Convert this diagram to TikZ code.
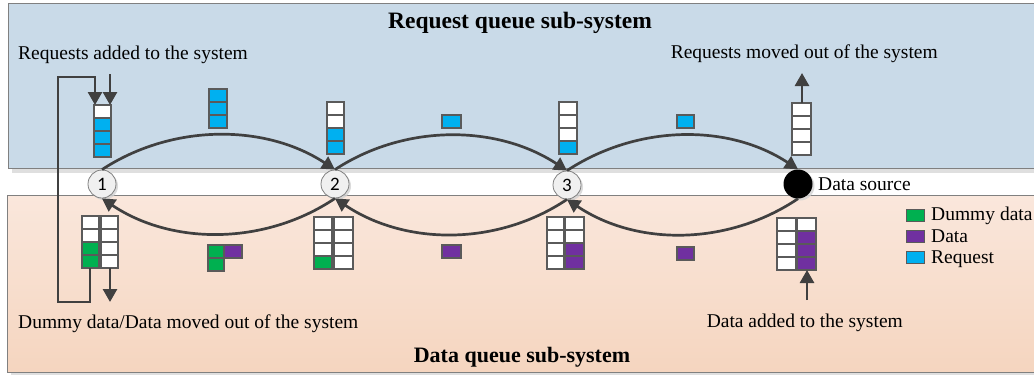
\documentclass[tikz,border=0pt]{standalone}
\usepackage{fontspec}
\setmainfont{Liberation Serif}
\newfontfamily\numfont{Carlito}
\usetikzlibrary{arrows.meta,shadows,calc}
\definecolor{panelblue}{HTML}{C9DAE8}
\definecolor{peachtop}{HTML}{FAE7DC}
\definecolor{peachbot}{HTML}{F5D5BF}
\definecolor{reqblue}{HTML}{00B0F0}
\definecolor{dumgreen}{HTML}{00B050}
\definecolor{datpurple}{HTML}{7030A0}
\definecolor{linegray}{HTML}{404040}
\definecolor{cellgray}{HTML}{5A5A5A}
\newcommand\qstack[5]{%
  \foreach \c [count=\i] in {#5} {%
    \node[qcell,fill=\c,minimum width=#4,anchor=north west] (#1-\i) at (#2,{#3+(\i-1)*13}) {};}}
\begin{document}
\begin{tikzpicture}[x=1pt,y=-1pt,
  qcell/.style={draw=cellgray,line width=1.1pt,minimum height=13pt,inner sep=0pt,outer sep=0pt},
  flow/.style={draw=linegray,line width=2.7pt,-{Triangle[length=13pt,width=14pt]}},
  hub/.style={circle,draw=gray,line width=0.8pt,fill=gray!12,minimum size=28pt,inner sep=0pt,font=\numfont\fontsize{19}{19}\selectfont,
    drop shadow={shadow xshift=2pt,shadow yshift=-2pt,fill=gray!35,opacity=0.8}},
  lbl/.style={inner sep=0pt,font=\fontsize{19.5}{20}\selectfont},
  legsq/.style={draw=cellgray,line width=1pt,minimum width=18pt,minimum height=12pt,inner sep=0pt}]
\useasboundingbox (0,0) rectangle (1034,375);
% panels
\fill[gray!25] (12,7) rectangle (1045,173);
\node[draw=gray,line width=1pt,fill=panelblue,anchor=north west,minimum width=1040pt,minimum height=165pt,inner sep=0pt] (top) at (8,3) {};
\fill[gray!25] (11,199) rectangle (1045,377);
\node[draw=gray,line width=1pt,top color=peachtop,bottom color=peachbot,anchor=north west,minimum width=1040pt,minimum height=177pt,inner sep=0pt] (bot) at (7,195) {};
% hubs
\node[hub] (c1) at (102,184) {1};
\node[hub] (c2) at (335,184) {2};
\node[hub] (c3) at (567,185) {3};
\node[circle,fill=black,minimum size=29pt,inner sep=0pt,drop shadow={shadow xshift=2pt,shadow yshift=-2pt,fill=gray!35,opacity=0.8}] (ds) at (798,184) {};
% arcs
\draw[flow] (c1.north) .. controls +(70,-46) and +(-70,-46) .. (c2.north);
\draw[flow] (c2.north) .. controls +(70,-46) and +(-70,-46) .. (c3.north);
\draw[flow] (c3.north) .. controls +(70,-46) and +(-70,-46) .. (ds.north);
\draw[flow] (c2.south) .. controls +(-70,47) and +(70,47) .. (c1.south);
\draw[flow] (c3.south) .. controls +(-70,47) and +(70,47) .. (c2.south);
\draw[flow] (ds.south) .. controls +(-70,47) and +(70,47) .. (c3.south);
% request stacks
\qstack{t1}{94}{105}{17}{white,reqblue,reqblue,reqblue}
\qstack{m12}{209}{89}{18}{reqblue,reqblue,reqblue}
\qstack{t2}{327}{102}{17}{white,white,reqblue,reqblue}
\qstack{m23}{442}{115}{19}{reqblue}
\qstack{t3}{559}{102}{18}{white,white,white,reqblue}
\qstack{m3d}{677}{115}{17}{reqblue}
\qstack{td}{792}{103}{19}{white,white,white,white}
% data stacks
\qstack{b1l}{82}{216}{17}{white,white,dumgreen,dumgreen}
\qstack{b1r}{101}{216}{17}{white,white,white,white}
\qstack{n12a}{208}{245}{16}{dumgreen,dumgreen}
\qstack{n12b}{224}{245}{18}{datpurple}
\qstack{b2l}{314}{217}{18}{white,white,white,dumgreen}
\qstack{b2r}{334}{217}{19}{white,white,white,white}
\qstack{n23}{442}{245}{19}{datpurple}
\qstack{b3l}{547}{217}{17}{white,white,white,white}
\qstack{b3r}{565}{217}{19}{white,white,datpurple,datpurple}
\qstack{n3d}{677}{247}{17}{datpurple}
\qstack{bdl}{777}{218}{19}{white,white,white,white}
\qstack{bdr}{797}{218}{19}{white,datpurple,datpurple,datpurple}
% in/out arrows
\coordinate (loopA) at (90,302);
\coordinate (loopB) at (58,302);
\coordinate (loopC) at (58,77);
\coordinate (loopD) at (95,77);
\draw[flow] (b1l-4.south -| loopA) -- (loopA) -- (loopB) -- (loopC) -- (loopD) -- (loopD |- t1-1.north);
\coordinate (inR) at (110,74);
\draw[flow] (inR) -- (inR |- t1-1.north);
\coordinate (outR) at (802,73);
\draw[flow] (outR |- td-1.north) -- (outR);
\coordinate (outD) at (110,302);
\draw[flow] (outD |- b1r-4.south) -- (outD);
\coordinate (inD) at (807,300);
\draw[flow] (inD) -- (inD |- bdr-4.south);
% texts
\node[inner sep=0pt,font=\bfseries\fontsize{23.5}{24}\selectfont,anchor=base] (ttop) at (520,28) {Request queue sub-system};
\node[inner sep=0pt,font=\bfseries\fontsize{22}{23}\selectfont,anchor=base] (tbot) at (522,362) {Data queue sub-system};
\node[lbl,anchor=base west] (l1) at (18,59) {Requests added to the system};
\node[lbl,anchor=base east] (l2) at (938,58) {Requests moved out of the system};
\node[lbl,anchor=base west] (l3) at (18,328) {Dummy data/Data moved out of the system};
\node[lbl,anchor=base east] (l4) at (903,327) {Data added to the system};
\node[lbl,anchor=base west] (l5) at (818,190) {Data source};
% legend
\node[legsq,fill=dumgreen,anchor=north west] (lg1) at (906,209) {};
\node[legsq,fill=datpurple,anchor=north west] (lg2) at (906,230) {};
\node[legsq,fill=reqblue,anchor=north west] (lg3) at (906,251) {};
\node[lbl,anchor=base west] (lt1) at (931,220) {Dummy data};
\node[lbl,anchor=base west] (lt2) at (931,242) {Data};
\node[lbl,anchor=base west] (lt3) at (931,263) {Request};
\end{tikzpicture}
\end{document}
